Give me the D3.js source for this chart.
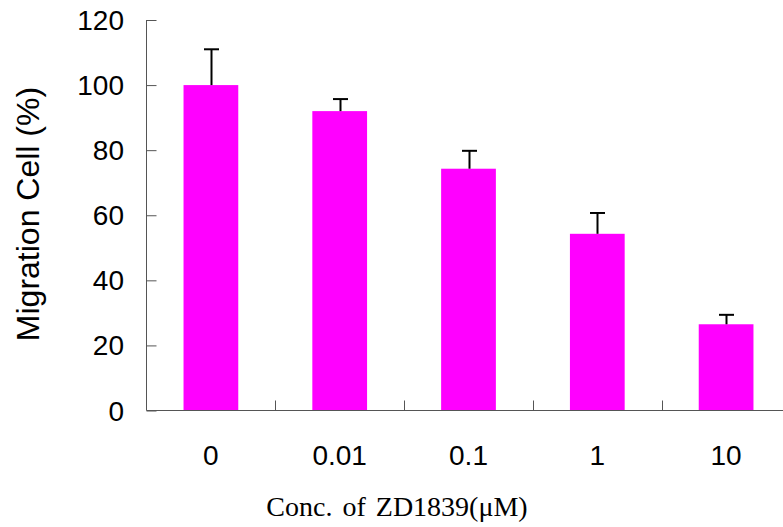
<!DOCTYPE html>
<html>
<head>
<meta charset="utf-8">
<script src="https://cdn.jsdelivr.net/npm/d3@7"></script>
<style>
  html, body { margin: 0; padding: 0; background: #fff; }
  svg { display: block; }
</style>
</head>
<body>
<svg id="chart" width="783" height="527"></svg>
<script>
// Concentrations of ZD1839 (µM) and migration relative to control (%)
const categories = ["0", "0.01", "0.1", "1", "10"];
const migration = [100, 92, 74.3, 54.3, 26.5];
const errorUp = [11, 3.7, 5.5, 6.4, 2.9];
const yTicks = [0, 20, 40, 60, 80, 100, 120];

const svg = d3.select("#chart");
const W = 783, H = 527;
const plotLeft = 146.5, plotBottom = 410.5, plotTop = 20, plotRight = 790.5;

svg.append("rect").attr("width", W).attr("height", H).attr("fill", "#fff");

const x = d3.scaleBand()
  .domain(categories)
  .range([plotLeft, plotRight])
  .paddingInner(0.575)
  .paddingOuter(0.2875);

const y = d3.scaleLinear().domain([0, 120]).range([plotBottom, plotTop]);

const axisColor = "#555";
const sans = "'Liberation Sans', Arial, Helvetica, sans-serif";

// bars
svg.append("g").selectAll("rect")
  .data(categories)
  .join("rect")
  .attr("x", d => x(d))
  .attr("width", x.bandwidth())
  .attr("y", (d, i) => y(migration[i]))
  .attr("height", (d, i) => y(0) - y(migration[i]))
  .attr("fill", "#ff00ff");

// upper error bars
const eb = svg.append("g").attr("stroke", "#000").attr("stroke-width", 2);
categories.forEach((c, i) => {
  const cx = Math.round(x(c) + x.bandwidth() / 2) + 0.5;
  const yt = y(migration[i] + errorUp[i]);
  eb.append("line").attr("x1", cx).attr("x2", cx)
    .attr("y1", y(migration[i])).attr("y2", yt);
  eb.append("line").attr("x1", cx - 7.5).attr("x2", cx + 7.5)
    .attr("y1", yt).attr("y2", yt);
});

// y axis: ticks point into the plot
const yAxis = svg.append("g").attr("transform", `translate(${plotLeft},0)`)
  .call(d3.axisRight(y).tickValues(yTicks).tickSize(10).tickFormat(""));
yAxis.select(".domain").attr("stroke", axisColor).attr("d", `M0,${plotTop}V${plotBottom}`);
yAxis.selectAll(".tick line").attr("stroke", axisColor);

svg.append("g").selectAll("text")
  .data(yTicks)
  .join("text")
  .attr("x", 124)
  .attr("y", d => y(d))
  .attr("dy", "0.36em")
  .attr("text-anchor", "end")
  .attr("font-family", sans)
  .attr("font-size", 28)
  .attr("fill", "#000")
  .text(d => d);

// x axis with ticks between categories
const step = x.step();
const boundaries = d3.range(1, categories.length).map(i => plotLeft + i * step);
svg.append("line")
  .attr("x1", plotLeft).attr("x2", W)
  .attr("y1", plotBottom).attr("y2", plotBottom)
  .attr("stroke", axisColor);
svg.append("g").selectAll("line")
  .data(boundaries)
  .join("line")
  .attr("x1", d => Math.round(d) + 0.5).attr("x2", d => Math.round(d) + 0.5)
  .attr("y1", plotBottom).attr("y2", plotBottom - 10)
  .attr("stroke", axisColor);

svg.append("g").selectAll("text")
  .data(categories)
  .join("text")
  .attr("x", d => x(d) + x.bandwidth() / 2)
  .attr("y", 465)
  .attr("text-anchor", "middle")
  .attr("font-family", sans)
  .attr("font-size", 28)
  .attr("fill", "#000")
  .text(d => d);

// axis titles
svg.append("text")
  .attr("transform", "translate(39,214) rotate(-90)")
  .attr("text-anchor", "middle")
  .attr("font-family", sans)
  .attr("font-size", 32)
  .attr("fill", "#000")
  .text("Migration Cell (%)");

svg.append("text")
  .attr("x", 397)
  .attr("y", 516)
  .attr("text-anchor", "middle")
  .attr("font-family", "'Liberation Serif', 'Times New Roman', serif")
  .attr("font-size", 28)
  .attr("word-spacing", 3)
  .attr("fill", "#000")
  .text("Conc. of ZD1839(μM)");
</script>
</body>
</html>
